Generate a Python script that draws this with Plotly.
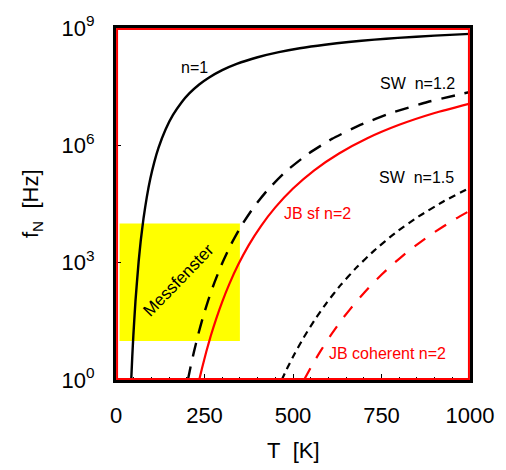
import plotly.graph_objects as go

# Temperature (K) and frequency (Hz)
t_n1 = [43, 46, 49, 55, 64, 70, 78, 87, 97, 108, 120, 140, 161, 185, 207, 235,
        262, 300, 341, 400, 460, 519, 590, 657, 730, 796, 900, 1000]
f_n1 = [1.00, 4.01, 13.6, 104, 1.08e3, 3.69e3, 1.41e4, 4.75e4, 1.41e5, 3.67e5,
        8.59e5, 2.55e6, 5.98e6, 1.25e7, 2.12e7, 3.59e7, 5.36e7, 8.36e7, 1.21e8,
        1.79e8, 2.42e8, 3.03e8, 3.74e8, 4.39e8, 5.04e8, 5.60e8, 6.38e8, 7.06e8]

t_sw12 = [203, 210, 220, 232, 245, 260, 278, 300, 325, 355, 390, 430, 480, 540,
          610, 690, 780, 880, 1000]
f_sw12 = [1.00, 2.03, 5.16, 14.3, 38.3, 106, 310, 970, 2.94e3, 9.02e3, 2.69e4,
          7.53e4, 2.15e5, 5.83e5, 1.46e6, 3.32e6, 6.84e6, 1.28e7, 2.31e7]

t_jbsf = [235, 243, 255, 268, 283, 300, 320, 345, 375, 410, 450, 500, 560, 630,
          710, 800, 900, 1000]
f_jbsf = [1.00, 2.00, 5.27, 13.7, 36.7, 100, 283, 879, 2.81e3, 8.75e3, 2.59e4,
          7.87e4, 2.30e5, 6.19e5, 1.52e6, 3.35e6, 6.71e6, 1.17e7]

t_sw15 = [468, 485, 505, 530, 560, 595, 635, 680, 730, 790, 855, 925, 1000]
f_sw15 = [1.00, 2.11, 4.76, 12.1, 33.0, 94.0, 270, 760, 2.07e3, 5.85e3, 1.52e4,
          3.67e4, 8.24e4]

t_jbcoh = [531, 550, 575, 605, 640, 680, 725, 775, 830, 890, 960, 1000]
f_jbcoh = [1.00, 2.06, 5.02, 13.3, 37.0, 104, 294, 804, 2.11e3, 5.28e3, 1.33e4,
           2.14e4]

# Measurement window
window_t = [10, 350]
window_f = [10, 1.0e4]

x_ticks = [0, 250, 500, 750, 1000]
y_ticks = [1, 1e3, 1e6, 1e9]
y_tick_text = ["10<sup>0</sup>", "10<sup>3</sup>", "10<sup>6</sup>", "10<sup>9</sup>"]

FONT = "Liberation Sans, Arial, sans-serif"
RED = "#ff0000"

fig = go.Figure()

fig.add_trace(go.Scatter(
    x=[window_t[0], window_t[1], window_t[1], window_t[0], window_t[0]],
    y=[window_f[0], window_f[0], window_f[1], window_f[1], window_f[0]],
    mode="lines", fill="toself", fillcolor="#ffff00",
    line=dict(width=0, color="#ffff00"), hoverinfo="skip"))

curves = [
    (t_n1, f_n1, "black", "solid", 2.4),
    (t_sw12, f_sw12, "black", "14px,10px", 2.4),
    (t_jbsf, f_jbsf, RED, "solid", 2.2),
    (t_sw15, f_sw15, "black", "7px,5px", 2.2),
    (t_jbcoh, f_jbcoh, RED, "13px,12px", 2.2),
]
for tx, fy, col, dash, w in curves:
    fig.add_trace(go.Scatter(
        x=tx, y=fy, mode="lines",
        line=dict(color=col, dash=dash, width=w, shape="spline", smoothing=0.5)))

labels = [
    (221, 8.0, "n=1", "black"),
    (853, 7.58, "SW&nbsp; n=1.2", "black"),
    (850, 5.17, "SW&nbsp; n=1.5", "black"),
    (570, 4.25, "JB sf n=2", RED),
    (768, 0.67, "JB coherent n=2", RED),
]
annotations = [
    dict(x=x, y=y, text=t, showarrow=False, font=dict(family=FONT, size=16, color=c),
         xanchor="center", yanchor="middle")
    for x, y, t, c in labels
]
annotations.append(dict(x=176, y=2.55, text="Messfenster", textangle=-46, showarrow=False,
                        font=dict(family=FONT, size=17, color="black"),
                        xanchor="center", yanchor="middle"))
annotations.append(dict(x=0.5, y=-0.2, xref="paper", yref="paper", text="T&nbsp; [K]",
                        showarrow=False, font=dict(family=FONT, size=22, color="black"),
                        xanchor="center", yanchor="middle"))
annotations.append(dict(x=0, y=0.5, xref="paper", yref="paper", xshift=32 - 116,
                        text="f<sub>N</sub>&nbsp; [Hz]", textangle=-90, showarrow=False,
                        font=dict(family=FONT, size=22, color="black"),
                        xanchor="center", yanchor="middle"))

fig.update_layout(
    width=506, height=470,
    margin=dict(l=116, r=29, t=19, b=90),
    paper_bgcolor="white", plot_bgcolor="white",
    showlegend=False,
    font=dict(family=FONT, size=22, color="black"),
    annotations=annotations,
    shapes=[dict(type="rect", xref="paper", yref="paper", x0=0.003, x1=0.997,
                 y0=0.003, y1=0.997, line=dict(color=RED, width=2), layer="above")],
    xaxis=dict(range=[0, 1000], tickvals=x_ticks, ticks="inside", ticklen=6,
               tickwidth=1, tickcolor="black", showgrid=False, zeroline=False,
               showline=True, linecolor="black", linewidth=3, mirror=True,
               ticklabelstandoff=14,
               minor=dict(dtick=50, ticks="inside", ticklen=3, tickcolor="black", showgrid=False),
               tickfont=dict(family=FONT, size=22, color="black")),
    yaxis=dict(type="log", range=[0, 9], tickvals=y_ticks, ticktext=y_tick_text,
               ticks="inside", ticklen=5, tickwidth=1, tickcolor="black",
               showgrid=False, zeroline=False, showline=True, linecolor="black",
               linewidth=3, mirror=True, ticklabelstandoff=14,
               tickfont=dict(family=FONT, size=22, color="black")),
)

fig.write_html("out.html")
